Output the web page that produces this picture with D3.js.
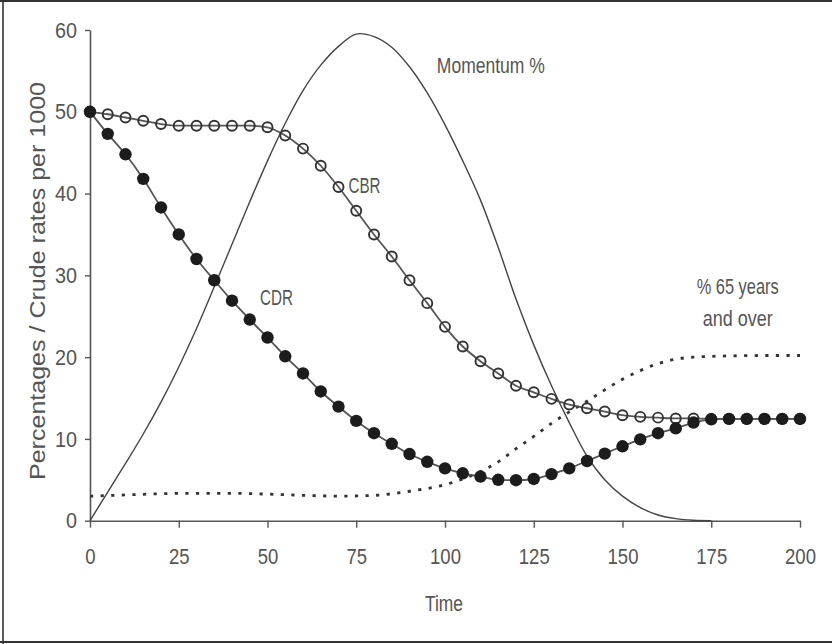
<!DOCTYPE html>
<html>
<head>
<meta charset="utf-8">
<script src="https://cdn.jsdelivr.net/npm/d3@7"></script>
<style>
  html, body { margin: 0; padding: 0; background: #fff; }
  svg { display: block; }
  text { font-family: "Liberation Sans", Arial, sans-serif; fill: #555; }
</style>
</head>
<body>
<svg id="chart" width="832" height="644"></svg>
<script>
// Time steps shared by the crude-rate series (every 5 time units)
const time = d3.range(0, 201, 5);

// Crude birth rate per 1000
const cbr = [50, 49.7, 49.3, 48.9, 48.5, 48.3, 48.3, 48.3, 48.3, 48.3, 48.1,
             47.1, 45.5, 43.4, 40.8, 37.9, 35.0, 32.3, 29.4, 26.6, 23.7,
             21.3, 19.5, 18.0, 16.5, 15.7, 14.9, 14.2, 13.75, 13.35, 12.9,
             12.7, 12.6, 12.5, 12.5, 12.45, 12.45, 12.45, 12.45, 12.45, 12.45];

// Crude death rate per 1000
const cdr = [50, 47.3, 44.8, 41.8, 38.3, 35.0, 32.0, 29.4, 26.9, 24.6, 22.4,
             20.1, 18.0, 15.8, 13.95, 12.2, 10.7, 9.4, 8.15, 7.2, 6.4,
             5.8, 5.4, 5.0, 4.95, 5.1, 5.7, 6.4, 7.3, 8.2, 9.1,
             9.95, 10.7, 11.3, 12.0, 12.4, 12.45, 12.45, 12.45, 12.45, 12.45];

// Population momentum (%)
const momentumTime = [0, 5, 10, 15, 20, 25, 30, 35, 40, 45, 50, 55, 60, 65, 70,
                      75, 80, 85, 90, 95, 100, 105, 110, 115, 120, 125, 130, 135,
                      140, 145, 150, 155, 160, 165, 170, 175];
const momentum = [0, 3.5, 7.0, 10.6, 14.5, 18.8, 23.5, 28.6, 33.8, 39.0, 44.0,
                  48.6, 52.6, 55.7, 58.0, 59.5, 59.2, 57.9, 55.5, 52.3, 48.4,
                  44.0, 39.2, 33.4, 27.1, 21.5, 16.5, 12.0, 7.9, 5.0, 3.0,
                  1.6, 0.7, 0.25, 0.05, 0];

// Share of population aged 65 and over (%)
const olderTime = [0, 10, 20, 30, 40, 50, 60, 70, 80, 90, 100, 105, 110, 115, 120,
                   125, 130, 135, 140, 145, 150, 155, 160, 165, 170, 180, 190, 200];
const older = [3.0, 3.15, 3.3, 3.35, 3.35, 3.25, 3.1, 3.0, 3.1, 3.6, 4.4, 5.1,
               6.0, 7.2, 8.8, 10.3, 11.9, 13.3, 14.6, 16.0, 17.3, 18.35, 19.2,
               19.75, 20.0, 20.15, 20.2, 20.2];

// Axis ticks
const xTicks = [0, 25, 50, 75, 100, 125, 150, 175, 200];
const yTicks = [0, 10, 20, 30, 40, 50, 60];

const svg = d3.select("#chart");

// Frame around the figure
svg.append("line").attr("x1", 0).attr("x2", 832).attr("y1", 1).attr("y2", 1)
  .attr("stroke", "#333").attr("stroke-width", 2);
svg.append("line").attr("x1", 3).attr("x2", 3).attr("y1", 0).attr("y2", 644)
  .attr("stroke", "#333").attr("stroke-width", 1.6);
svg.append("line").attr("x1", 0).attr("x2", 832).attr("y1", 642).attr("y2", 642)
  .attr("stroke", "#333").attr("stroke-width", 2);

const x = d3.scaleLinear().domain([0, 200]).range([90, 800]);
const y = d3.scaleLinear().domain([0, 60]).range([520.7, 30]);

const fontSize = "22.5px";
const digitW = 10.3;

// Axes
const gx = svg.append("g").attr("transform", `translate(0,${y(0)})`)
  .call(d3.axisBottom(x).tickValues(xTicks).tickSize(7).tickSizeOuter(0).tickPadding(20));
const gy = svg.append("g").attr("transform", `translate(${x(0)},0)`)
  .call(d3.axisLeft(y).tickValues(yTicks).tickSize(5).tickSizeOuter(0).tickPadding(8));

[gx, gy].forEach(g => {
  g.select(".domain").attr("stroke", "#555").attr("stroke-width", 1.6);
  g.selectAll(".tick line").attr("stroke", "#555").attr("stroke-width", 1.4);
  g.selectAll(".tick text")
    .attr("fill", "#555")
    .style("font-size", fontSize)
    .attr("font-family", "Liberation Sans, Arial, sans-serif")
    .attr("textLength", d => String(d).length * digitW)
    .attr("lengthAdjust", "spacingAndGlyphs");
});
gy.selectAll(".tick text").attr("textLength", d => String(d).length * 11);

// Axis titles
svg.append("text")
  .attr("x", 425).attr("y", 611)
  .style("font-size", fontSize)
  .attr("textLength", 38).attr("lengthAdjust", "spacingAndGlyphs")
  .text("Time");

svg.append("text")
  .attr("transform", "translate(45,281) rotate(-90)")
  .attr("text-anchor", "middle")
  .style("font-size", fontSize)
  .attr("textLength", 398).attr("lengthAdjust", "spacingAndGlyphs")
  .text("Percentages / Crude rates per 1000");

// Momentum curve
const momLine = d3.line()
  .x((d, i) => x(momentumTime[i]))
  .y(d => y(d))
  .curve(d3.curveCatmullRom.alpha(0.5));
svg.append("path").datum(momentum)
  .attr("d", momLine)
  .attr("fill", "none").attr("stroke", "#444").attr("stroke-width", 1.4);

// % 65 and over, dotted
const oldLine = d3.line()
  .x((d, i) => x(olderTime[i]))
  .y(d => y(d))
  .curve(d3.curveMonotoneX);
svg.append("path").datum(older)
  .attr("d", oldLine)
  .attr("fill", "none").attr("stroke", "#333").attr("stroke-width", 2.8)
  .attr("stroke-dasharray", "3.2 7.4");

// Crude rate lines
const rateLine = d3.line()
  .x((d, i) => x(time[i]))
  .y(d => y(d))
  .curve(d3.curveMonotoneX);

svg.append("path").datum(cbr)
  .attr("d", rateLine)
  .attr("fill", "none").attr("stroke", "#555").attr("stroke-width", 1.8);
svg.append("path").datum(cdr)
  .attr("d", rateLine)
  .attr("fill", "none").attr("stroke", "#555").attr("stroke-width", 1.8);

// CBR: open circles
svg.append("g").selectAll("circle").data(cbr).join("circle")
  .attr("cx", (d, i) => x(time[i]))
  .attr("cy", d => y(d))
  .attr("r", 5)
  .attr("fill", "none").attr("stroke", "#333").attr("stroke-width", 1.9);

// CDR: filled circles
svg.append("g").selectAll("circle").data(cdr).join("circle")
  .attr("cx", (d, i) => x(time[i]))
  .attr("cy", d => y(d))
  .attr("r", 6.2)
  .attr("fill", "#1c1c1c");

// Series labels
const labels = [
  { text: "Momentum %", t: 97.7, v: 54.8, w: 108 },
  { text: "CBR", t: 72.8, v: 40.1, w: 32 },
  { text: "CDR", t: 47.9, v: 26.4, w: 33 },
  { text: "% 65 years", t: 170.9, v: 27.7, w: 82 },
  { text: "and over", t: 172.6, v: 23.8, w: 70 }
];
svg.append("g").selectAll("text").data(labels).join("text")
  .attr("x", d => x(d.t))
  .attr("y", d => y(d.v))
  .style("font-size", fontSize)
  .attr("textLength", d => d.w).attr("lengthAdjust", "spacingAndGlyphs")
  .text(d => d.text);
</script>
</body>
</html>
